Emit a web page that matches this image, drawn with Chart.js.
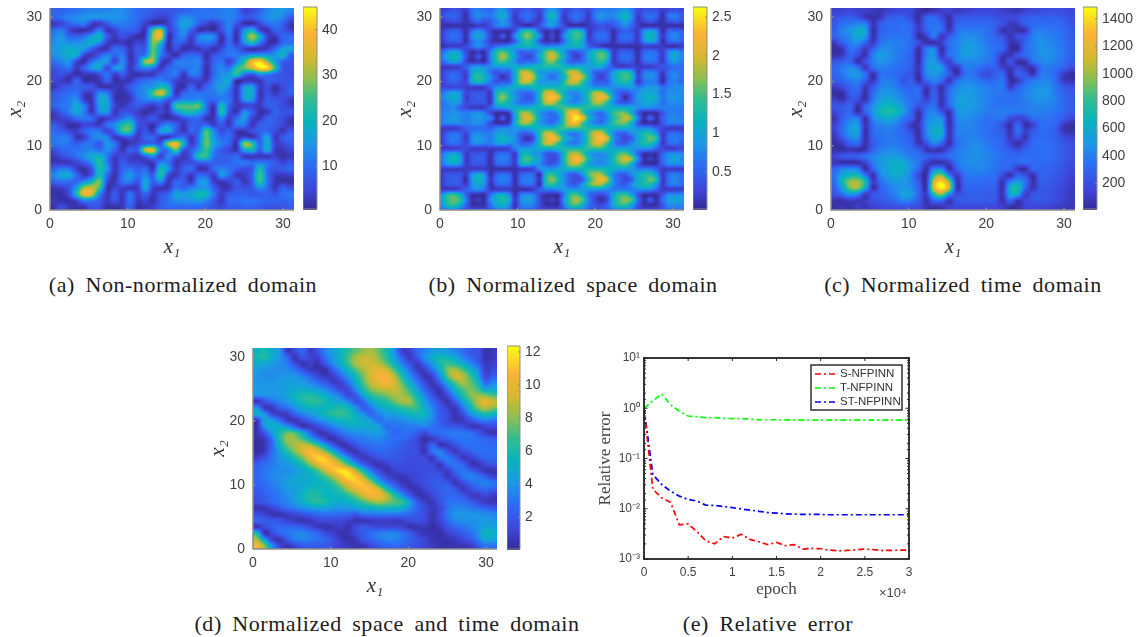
<!DOCTYPE html>
<html>
<head>
<meta charset="utf-8">
<script src="https://cdn.jsdelivr.net/npm/chart.js@4/dist/chart.umd.js"></script>
<style>
  html, body { margin: 0; padding: 0; background: #fff; }
  body { position: relative; width: 1140px; height: 637px; overflow: hidden; }
  canvas { position: absolute; }
  .cap { position: absolute; transform: translateX(-50%); white-space: nowrap; color: #1c1c1c;
         font: 22px "Liberation Serif", serif; letter-spacing: 0.55px; word-spacing: 4.5px; }
  .exp { position: absolute; font: 13px "Liberation Sans", sans-serif; color: #444; }
</style>
</head>
<body>
<canvas id="hA"></canvas><canvas id="cA"></canvas>
<canvas id="hB"></canvas><canvas id="cB"></canvas>
<canvas id="hC"></canvas><canvas id="cC"></canvas>
<canvas id="hD"></canvas><canvas id="cD"></canvas>
<canvas id="err"></canvas>
<div class="cap" style="left:183px;top:272px">(a) Non-normalized domain</div>
<div class="cap" style="left:573px;top:272px">(b) Normalized space domain</div>
<div class="cap" style="left:963px;top:272px">(c) Normalized time domain</div>
<div class="cap" style="left:387px;top:611px">(d) Normalized space and time domain</div>
<div class="cap" style="left:768px;top:611px">(e) Relative error</div>
<div class="exp" style="left:879px;top:585px">×10⁴</div>
<script>
// panel a, rows top to bottom
const gridA = [
[9,9,10,11,12,13,13,13,14,14,12,10,9,8,7,7,8,9,10,11,11,11,12,13,11,5,6,9,13,15,15,13],
[9,11,13,14,15,15,15,15,15,14,12,10,8,6,4,5,10,14,13,11,11,11,12,13,11,8,8,11,14,15,13,8],
[3,5,9,11,12,4,3,8,12,12,11,9,4,2,3,4,11,17,15,9,5,3,8,13,7,2,2,5,10,12,9,3],
[10,12,5,2,2,4,12,3,5,9,9,7,3,24,32,6,9,15,9,2,3,2,6,13,3,14,19,5,2,9,8,4],
[13,15,10,9,11,16,20,8,3,7,4,2,4,30,37,3,9,13,4,12,15,13,2,11,2,19,31,20,5,3,9,10],
[14,16,14,14,16,18,14,4,3,3,2,5,6,29,22,2,9,7,3,10,11,9,2,10,3,15,22,12,3,2,9,11],
[15,17,19,18,15,9,3,3,10,9,3,8,8,27,15,2,6,2,3,3,5,2,6,11,9,4,2,3,4,10,16,17],
[14,16,19,17,5,3,8,13,9,12,2,8,12,28,13,5,2,8,10,9,2,7,9,11,12,13,16,17,16,15,20,9],
[11,13,15,5,2,11,15,15,5,14,3,9,30,30,6,3,11,12,12,13,3,9,11,4,13,23,38,42,30,17,9,7],
[7,9,11,3,9,15,17,6,15,14,3,9,14,11,3,9,11,11,12,12,2,10,13,11,23,28,34,43,42,24,8,6],
[5,7,4,2,3,3,6,11,4,8,3,2,3,3,8,10,12,3,12,11,2,10,14,16,24,11,8,14,13,9,7,6],
[5,4,2,9,2,2,3,9,2,3,3,8,10,12,13,10,5,3,4,5,3,12,15,17,2,3,3,3,8,8,7,7],
[3,6,8,9,8,7,3,2,3,3,8,11,14,15,22,18,4,2,9,3,9,13,17,13,3,15,16,4,6,2,5,8],
[7,9,10,11,4,4,14,12,3,2,5,12,14,26,34,22,3,9,11,11,11,12,14,10,3,17,18,3,7,3,6,8],
[8,10,12,14,4,3,17,16,3,2,3,10,13,14,15,8,9,13,13,14,11,10,12,11,3,15,15,3,8,7,6,3],
[9,11,12,18,12,3,16,17,5,3,6,8,5,3,6,3,24,26,26,27,11,3,21,9,3,4,5,3,8,8,6,4],
[4,8,12,17,12,3,14,15,3,7,6,4,2,3,5,3,13,20,22,17,10,2,23,7,3,14,9,2,3,9,7,7],
[3,4,6,10,11,10,3,4,6,11,14,6,5,8,3,2,3,6,9,10,3,3,13,4,11,15,5,3,9,8,6,3],
[8,5,2,2,5,5,3,11,14,22,24,8,5,2,9,13,9,3,9,8,9,4,8,3,12,11,3,8,9,8,5,3],
[10,8,5,4,9,12,11,5,11,24,24,5,7,3,16,17,8,3,9,9,26,14,6,9,3,3,6,9,9,6,3,7],
[11,12,11,3,4,12,14,13,3,5,7,3,9,9,3,3,9,11,3,11,27,15,10,10,3,5,3,8,17,3,8,10],
[11,12,11,8,11,11,8,15,11,2,3,5,8,10,7,30,37,20,4,12,28,17,12,9,3,30,25,9,19,5,5,8],
[6,9,10,11,12,13,10,14,9,3,9,8,33,36,12,12,27,7,8,15,25,13,8,5,3,17,20,9,18,4,3,5],
[3,6,8,11,14,18,20,12,4,6,4,3,8,14,4,13,8,3,8,23,24,11,9,8,10,3,3,3,3,4,2,3],
[3,3,3,5,8,14,24,12,3,8,5,5,3,3,13,11,3,5,6,8,9,9,8,9,11,12,10,12,11,8,5,7],
[9,12,11,4,2,8,22,15,3,9,11,8,10,3,21,15,4,8,10,3,3,10,13,11,8,6,8,22,10,7,8,9],
[13,17,17,10,3,8,22,10,2,11,15,10,13,8,23,6,3,8,3,10,9,4,15,10,3,4,9,25,11,4,3,4],
[9,11,10,9,14,21,28,6,3,11,12,7,17,9,14,3,9,8,3,14,15,4,3,5,8,3,8,24,11,3,2,2],
[3,4,7,17,31,33,25,3,5,4,3,4,17,5,3,3,11,9,12,14,15,9,3,3,7,6,8,14,10,3,9,6],
[2,2,6,21,37,34,14,3,8,3,11,4,9,3,7,9,17,16,17,22,20,11,4,8,9,9,7,8,9,7,10,12],
[3,2,2,5,13,12,8,3,7,3,11,3,5,2,8,11,14,14,15,16,13,8,3,10,10,11,11,10,9,9,9,10],
[2,6,3,2,3,7,6,2,2,3,9,2,3,4,8,10,10,10,10,10,9,7,5,8,8,9,9,8,7,7,7,8]
];
// panel b, in tenths
const gridB = [
[2,3,4,3,2,6,7,6,6,8,9,6,3,4,5,4,3,7,9,7,3,4,5,4,3,6,7,7,7,8,9,7,3,4,4,4,2,3,4,3],
[3,5,5,4,1,6,8,7,7,9,11,7,2,5,6,5,2,8,13,8,2,5,6,5,2,7,9,8,8,10,12,8,2,5,6,5,1,6,7,5],
[2,3,4,3,1,4,6,4,5,7,9,6,2,3,5,3,2,7,10,7,2,3,5,3,2,5,7,6,6,8,10,7,2,3,5,3,1,4,5,4],
[1,1,1,1,1,1,2,2,4,7,8,6,3,2,1,2,4,7,9,6,3,1,1,1,2,3,4,3,4,6,8,5,2,1,1,1,1,1,1,1],
[2,4,5,4,1,6,8,6,2,1,1,1,4,11,14,11,4,1,2,1,5,11,13,10,2,4,5,4,1,4,5,4,2,8,10,8,1,5,6,5],
[2,5,6,5,1,8,10,8,3,1,4,1,8,13,17,13,8,1,3,1,8,12,15,12,2,5,6,5,1,5,6,5,2,9,12,9,2,6,8,6],
[2,4,5,4,1,6,8,6,2,1,1,1,5,11,14,11,4,1,2,1,6,11,13,10,3,4,5,4,1,4,5,4,2,8,10,8,1,5,6,5],
[1,2,2,2,3,6,8,6,4,6,7,8,10,11,12,11,9,7,8,8,10,11,12,10,5,3,2,1,1,1,1,1,1,2,2,2,2,1,1,2],
[5,8,10,8,3,1,2,1,7,13,15,12,8,5,6,6,9,15,17,13,9,5,5,6,9,12,14,10,2,4,5,4,1,5,6,5,2,7,9,7],
[7,10,12,10,4,1,4,1,8,14,18,14,9,5,3,5,11,16,20,16,10,5,2,5,10,13,16,13,2,5,6,5,1,6,7,6,2,8,10,8],
[5,8,10,8,3,1,2,1,7,13,15,12,8,5,6,6,9,15,17,13,9,5,5,6,9,12,14,10,2,4,5,4,1,5,6,5,2,7,9,7],
[2,2,2,3,5,8,9,8,8,9,9,10,11,11,11,12,12,13,13,13,12,11,11,11,10,10,10,7,4,2,2,3,2,2,2,3,4,5,6,6],
[2,4,5,4,3,10,12,10,6,4,5,5,11,18,19,15,9,9,9,9,14,19,19,14,9,5,5,5,9,12,13,10,2,6,7,6,2,6,7,6],
[2,5,6,5,2,11,14,11,8,4,1,4,11,18,22,18,11,8,6,8,12,18,22,18,11,5,2,5,10,13,15,13,3,7,8,7,1,6,8,6],
[2,4,5,4,3,10,12,10,6,4,5,5,11,18,19,15,9,9,9,9,14,19,19,14,9,5,5,5,9,12,13,10,2,6,7,6,1,6,7,6],
[3,3,3,3,2,2,2,2,5,8,9,10,11,11,11,12,12,12,12,12,13,13,13,12,10,8,8,8,8,8,9,9,7,8,9,9,6,7,8,8],
[6,8,9,8,3,4,4,4,2,12,14,11,8,6,6,7,12,19,20,15,11,8,8,10,13,18,18,13,8,5,4,6,8,10,10,9,6,8,8,8],
[8,9,11,9,2,4,5,4,2,13,17,13,9,6,4,6,13,20,24,20,12,9,7,9,14,19,22,19,9,5,1,5,9,10,12,10,7,8,9,8],
[6,8,9,8,3,4,4,4,2,12,14,11,8,6,6,7,12,19,20,15,11,8,8,10,13,18,18,13,8,5,4,6,8,10,10,9,6,8,8,8],
[7,7,8,5,3,2,2,2,5,8,9,10,11,11,11,12,12,12,12,14,15,15,15,14,13,13,13,12,11,11,11,10,8,8,8,7,7,7,7,7],
[7,8,8,8,7,8,8,7,3,1,1,2,11,17,18,14,9,7,6,9,15,22,22,15,10,7,6,9,14,16,16,11,4,1,1,1,4,7,7,7],
[7,8,9,8,7,8,9,8,7,1,4,1,10,17,21,17,10,7,6,7,15,22,26,22,12,8,6,8,13,16,19,16,7,1,5,1,5,7,8,7],
[7,8,8,8,7,8,8,7,3,1,1,2,11,17,18,14,9,7,6,9,15,22,22,15,10,7,6,9,14,16,16,11,4,1,1,1,4,7,7,7],
[2,2,2,3,5,6,6,6,5,7,8,8,9,10,10,11,12,12,12,13,15,15,15,14,13,13,13,12,11,11,11,10,8,8,8,5,3,2,2,2],
[2,5,6,5,3,7,8,7,7,9,10,8,8,5,5,7,13,19,19,14,10,7,7,10,15,20,20,14,8,5,5,8,10,13,13,9,2,5,6,5],
[2,6,7,6,2,8,9,8,7,10,12,10,8,4,1,4,13,19,23,19,12,9,7,9,15,20,24,20,9,5,3,5,10,13,16,13,2,6,7,6],
[2,5,6,5,3,7,8,7,7,9,10,8,8,5,5,7,13,19,19,14,10,7,7,10,15,20,20,14,8,5,5,8,10,13,13,9,2,5,6,5],
[2,2,2,3,3,2,2,2,2,2,2,3,7,9,9,10,11,11,11,12,13,13,13,13,14,14,14,12,10,10,10,9,8,8,8,5,3,2,2,3],
[6,9,10,8,2,4,4,4,1,5,6,5,2,11,12,9,8,5,4,6,12,18,19,15,10,8,8,9,12,15,16,11,5,1,1,1,5,8,8,8],
[7,10,12,10,2,4,5,4,1,6,7,6,2,12,15,12,9,5,3,5,13,19,23,19,12,9,8,9,13,17,20,17,8,1,2,1,6,8,10,8],
[6,9,10,8,2,4,4,4,1,5,6,5,2,11,12,9,8,5,4,6,12,18,19,15,10,8,8,9,12,15,16,11,5,1,1,1,5,8,8,8],
[2,2,2,2,2,2,2,2,1,1,1,1,1,2,2,3,8,9,9,10,11,12,12,12,13,13,13,12,11,10,10,9,7,7,7,5,2,2,2,2],
[2,4,4,4,2,8,10,8,1,5,6,5,1,5,6,5,1,12,14,11,8,5,5,9,15,18,18,13,8,5,5,8,11,13,13,9,2,6,7,6],
[2,4,5,4,1,9,12,9,2,6,7,6,1,6,7,6,2,13,17,13,8,5,3,5,13,18,22,18,8,5,3,5,11,13,16,13,2,6,8,6],
[2,4,4,4,2,8,10,8,1,5,6,5,1,5,6,5,1,12,14,11,8,5,5,9,15,18,18,13,8,5,5,8,11,13,13,9,2,6,7,6],
[2,2,2,3,5,7,8,6,2,2,2,2,1,1,1,2,5,7,7,8,9,9,9,9,9,9,9,8,7,7,7,7,8,8,8,5,2,2,2,2],
[8,13,14,11,5,1,1,1,6,10,11,8,1,7,8,7,3,1,1,1,7,14,15,11,6,4,3,5,10,14,14,10,4,1,1,1,4,8,8,8],
[10,14,16,14,7,1,2,1,8,11,13,11,2,8,9,8,3,1,2,1,9,15,18,15,7,3,1,3,11,15,17,15,6,1,4,1,6,9,10,9],
[8,13,14,11,5,1,1,1,6,10,11,8,1,7,8,7,3,1,1,1,7,14,15,11,6,4,3,5,10,14,14,10,4,1,1,1,4,8,8,8],
[6,7,8,6,4,3,3,3,5,7,8,7,2,5,6,5,3,3,3,3,5,8,9,8,5,4,4,5,7,8,8,7,4,3,3,3,4,6,6,6]
];
// panel c, in tens
const gridC = [
[14,14,16,14,12,10,8,12,16,18,16,6,4,8,12,14,10,12,14,16,16,16,12,10,8,14,16,18,20,20,18,16],
[20,25,28,22,10,5,10,25,28,28,18,5,28,32,18,6,22,25,25,25,25,22,18,18,20,25,28,28,28,28,25,20],
[25,35,38,42,40,8,25,32,32,34,28,8,30,35,30,5,28,32,32,32,30,28,20,10,12,28,32,33,33,33,30,22],
[28,42,48,58,55,5,28,32,33,35,30,10,28,38,32,8,33,40,38,38,34,25,6,10,6,8,36,40,38,36,32,25],
[28,38,45,60,50,8,30,35,36,36,32,4,12,38,10,25,38,45,45,42,36,30,20,8,20,25,40,45,42,38,34,26],
[10,28,40,45,30,10,35,42,40,38,32,18,6,6,12,35,42,50,50,45,38,32,28,8,10,30,40,48,45,40,35,28],
[4,8,35,30,10,28,45,45,40,38,30,5,38,42,6,32,42,52,52,48,40,34,30,6,5,32,40,48,46,42,36,28],
[6,10,30,18,8,40,52,48,40,36,28,4,40,48,10,34,42,50,50,46,40,32,10,8,22,32,40,46,48,42,36,28],
[22,28,30,6,20,38,48,45,38,34,28,5,45,52,28,14,38,44,44,42,38,30,6,22,6,8,34,42,44,40,34,26],
[30,38,45,38,10,32,40,38,35,32,26,8,45,55,50,18,8,36,38,34,26,28,14,8,18,10,6,34,38,34,28,18],
[30,38,48,50,35,6,34,35,32,28,22,6,42,50,42,25,6,34,36,26,18,26,32,4,26,22,8,36,38,30,12,5],
[26,30,38,42,25,8,36,40,35,22,28,5,30,42,32,8,34,42,42,36,30,32,36,6,10,30,38,42,42,32,10,8],
[12,18,30,34,10,25,42,45,40,32,30,28,10,25,6,30,42,48,48,44,40,38,38,12,28,38,44,48,46,36,26,20],
[5,4,25,28,6,32,48,50,45,38,32,32,5,28,8,34,48,52,50,46,42,38,36,32,34,42,48,50,48,38,30,24],
[12,6,22,20,6,38,52,58,52,42,34,30,14,30,6,34,50,55,52,46,42,36,34,34,36,40,46,48,46,40,32,26],
[22,24,30,6,28,45,62,68,62,48,36,22,28,35,8,30,50,55,52,46,40,36,38,36,36,38,42,44,42,38,32,26],
[14,25,30,5,30,48,68,74,70,50,32,6,36,42,25,6,44,50,48,44,38,38,40,38,36,38,40,40,38,36,30,24],
[8,28,38,38,6,42,55,62,52,38,28,5,40,48,45,5,42,46,44,40,36,36,36,18,14,16,34,36,36,32,26,16],
[14,32,48,50,8,34,42,44,40,30,10,8,42,55,52,6,38,44,42,38,34,32,20,6,30,6,14,34,34,28,10,5],
[14,35,50,55,5,32,38,40,36,30,18,5,42,60,60,7,38,42,42,38,34,30,26,6,34,12,24,32,32,26,8,6],
[8,26,42,45,6,30,36,38,36,32,26,6,38,55,50,8,36,40,42,40,36,32,28,10,22,8,30,32,32,28,18,14],
[5,10,28,30,6,26,34,38,38,34,30,8,20,42,28,6,34,40,45,44,38,34,30,14,5,18,32,34,34,30,24,20],
[6,5,8,5,8,30,40,44,44,40,34,28,8,8,6,22,38,42,46,46,40,36,32,26,20,28,32,34,34,30,26,20],
[14,24,26,28,36,42,48,52,52,46,38,34,28,24,28,34,40,44,46,46,42,38,34,32,32,34,34,34,34,30,26,20],
[8,6,5,6,14,38,50,58,62,58,46,36,14,6,6,12,36,44,46,46,42,38,34,32,30,32,32,32,32,28,24,18],
[30,42,45,40,6,30,48,58,64,60,46,30,6,40,42,6,28,40,42,44,40,36,30,28,10,6,30,30,30,26,22,16],
[36,58,68,68,38,6,42,52,60,55,42,18,6,78,95,40,10,34,38,38,36,34,18,6,30,20,6,28,28,24,20,14],
[34,70,98,100,72,12,34,44,52,50,42,24,7,110,140,95,10,30,34,34,32,30,8,38,50,34,6,26,26,22,18,12],
[28,55,92,98,60,6,28,38,46,50,44,30,8,118,148,110,8,28,30,30,28,28,6,62,72,30,8,24,24,20,16,10],
[22,35,50,42,12,22,28,34,42,54,52,30,12,72,98,48,18,26,28,28,26,26,8,58,55,12,22,24,22,18,14,10],
[6,6,12,10,10,20,24,28,34,42,38,26,6,30,32,8,24,26,26,26,24,24,6,30,8,16,24,24,22,18,14,10],
[5,8,5,12,8,14,16,18,20,22,20,18,8,6,8,14,16,16,16,16,16,16,12,6,6,14,16,16,14,12,10,8]
];
// panel d, in tenths
const gridD = [
[55,60,50,40,8,15,25,8,20,35,45,55,65,75,82,85,75,60,40,12,10,25,35,40,45,42,35,28,20,18,5,8],
[58,62,50,40,25,6,18,12,12,30,42,55,70,85,90,90,80,65,45,25,8,20,38,50,58,55,48,35,25,18,5,8],
[50,48,42,38,32,15,6,10,5,20,38,50,68,85,92,92,88,75,55,35,18,8,25,42,60,68,62,50,38,25,8,10],
[42,40,38,38,36,30,18,8,6,4,22,38,55,72,85,95,100,92,72,50,30,10,10,28,50,78,85,72,55,38,10,14],
[40,38,38,40,42,40,34,25,14,8,10,25,42,60,78,95,105,106,88,62,40,22,6,12,38,72,92,88,68,45,14,22],
[40,40,40,42,45,45,42,36,28,20,10,12,30,50,72,90,100,106,95,75,52,32,15,6,22,50,72,85,75,58,25,35],
[42,42,42,42,46,48,50,48,42,35,25,12,16,40,62,80,88,92,92,82,65,45,25,10,8,30,55,72,78,68,45,48],
[38,40,40,42,48,55,60,62,58,50,40,30,14,22,48,65,72,78,85,85,75,55,35,18,6,15,40,62,78,82,78,70],
[6,18,28,35,42,50,60,65,65,58,50,45,35,18,28,48,58,65,75,85,85,65,45,28,14,6,22,45,68,88,98,90],
[38,8,8,22,30,40,48,55,55,55,58,62,55,38,22,32,45,52,58,65,70,68,50,35,20,10,8,30,55,78,88,80],
[50,40,14,8,10,25,35,42,48,58,65,68,62,50,38,25,35,42,45,50,55,58,55,38,22,15,6,16,38,52,62,55],
[8,45,42,28,10,6,15,25,35,42,50,55,58,55,50,42,28,35,35,38,42,45,45,35,22,14,7,8,18,28,35,30],
[6,40,50,50,40,22,6,8,15,25,35,42,48,50,50,50,45,28,30,30,32,32,35,30,25,20,20,16,8,8,12,15],
[6,20,42,60,75,70,50,25,8,8,18,28,35,38,40,42,42,35,25,28,28,22,14,25,28,30,32,30,28,20,10,6],
[4,8,30,62,82,82,70,50,30,12,5,12,22,30,32,35,36,32,28,26,22,14,4,8,16,22,28,30,30,28,25,22],
[3,6,25,55,75,85,92,85,68,45,22,7,8,18,25,28,30,28,25,22,18,14,8,25,8,8,18,25,28,28,28,26],
[4,8,28,45,62,80,95,110,100,80,55,30,10,7,15,22,25,25,22,20,18,16,6,28,35,18,8,16,22,28,28,28],
[10,18,30,40,50,62,78,100,115,110,88,62,38,16,8,10,16,20,20,18,16,15,14,8,28,32,22,8,10,18,25,25],
[22,28,32,38,42,50,62,80,100,112,108,92,68,42,22,10,6,10,16,16,14,15,16,14,8,25,30,24,8,6,14,18],
[25,30,35,38,38,42,48,58,72,92,108,118,112,85,55,30,14,6,10,14,14,14,15,16,12,10,25,30,24,14,6,6],
[25,30,35,38,42,48,50,52,58,70,85,105,118,110,85,55,30,14,8,6,10,14,16,18,18,8,15,28,35,30,22,12],
[25,28,34,38,45,48,48,50,55,58,68,85,102,112,108,85,55,32,18,8,6,12,16,20,22,20,6,14,25,30,35,30],
[22,26,30,35,42,45,50,58,58,55,58,68,85,98,108,108,92,62,38,20,8,6,12,18,22,25,20,8,14,22,25,22],
[18,22,28,32,38,45,55,62,62,55,55,58,65,78,92,105,102,88,65,42,22,8,6,12,20,25,25,20,10,8,14,8],
[15,20,25,30,35,42,52,60,65,60,52,50,52,60,70,80,85,80,72,68,45,22,10,7,18,28,30,28,22,14,8,6],
[6,6,12,20,28,32,38,42,45,45,42,40,42,45,50,52,55,55,55,50,38,25,15,8,12,28,35,35,32,28,25,20],
[16,12,6,5,8,14,18,22,26,28,28,26,25,18,28,28,30,30,30,28,25,20,15,6,14,32,40,42,40,40,38,35],
[25,22,20,18,12,8,5,8,12,14,14,14,10,6,6,8,10,10,8,10,14,16,14,6,12,25,35,38,38,40,42,40],
[6,16,22,25,25,25,22,14,8,5,7,10,6,14,20,16,14,14,14,12,6,6,8,4,8,18,25,30,35,40,48,45],
[58,6,14,25,30,34,35,30,25,15,10,5,6,14,22,28,32,35,35,30,22,12,6,6,4,10,16,22,28,38,55,52],
[85,45,12,6,20,32,35,32,28,25,16,8,5,8,18,25,30,35,35,30,24,18,12,6,5,5,8,14,20,32,48,45],
[105,80,40,14,6,12,20,22,20,20,15,10,8,5,6,14,20,24,26,24,20,16,12,8,5,4,5,6,8,20,30,28]
];

const ticksA = [10, 20, 30, 40];
const ticksB = [0.5, 1, 1.5, 2, 2.5];
const ticksC = [200, 400, 600, 800, 1000, 1200, 1400];
const ticksD = [2, 4, 6, 8, 10, 12];
const axisTicks = [0, 10, 20, 30];

const epochs = [0,1000,2000,3000,4000,5000,6000,7000,8000,9000,10000,11000,12000,13000,14000,15000,16000,17000,18000,19000,20000,21000,22000,23000,24000,25000,26000,27000,28000,29000,30000];
const errS = [1,0.0245,0.0165,0.0134,0.0048,0.005,0.0035,0.0023,0.002,0.0028,0.0026,0.0031,0.00246,0.0022,0.00193,0.00214,0.00184,0.00193,0.00158,0.00163,0.0016,0.0015,0.00145,0.00148,0.00152,0.00157,0.00154,0.00147,0.00149,0.0015,0.0015];
const errT = [1,1.4,1.93,1.18,0.87,0.7,0.68,0.65,0.65,0.63,0.62,0.62,0.61,0.59,0.59,0.59,0.585,0.585,0.58,0.58,0.58,0.58,0.58,0.58,0.58,0.58,0.58,0.58,0.58,0.58,0.58];
const errST = [1,0.048,0.0304,0.0224,0.0178,0.0153,0.0142,0.0118,0.0116,0.0111,0.0105,0.0099,0.0094,0.0089,0.0084,0.0082,0.0079,0.0078,0.0077,0.0077,0.0077,0.0076,0.0076,0.0076,0.0076,0.0076,0.0076,0.0076,0.0076,0.0076,0.0076];

const colorStops = [
  [0, 53, 42, 150], [0.1, 62, 70, 218], [0.22, 45, 108, 245], [0.33, 28, 152, 230],
  [0.44, 8, 180, 190], [0.55, 50, 190, 145], [0.65, 140, 192, 80], [0.75, 210, 185, 48],
  [0.87, 252, 178, 56], [1, 248, 250, 16]
];

function colorAt(t) {
  t = Math.max(0, Math.min(1, t));
  for (let i = 1; i < colorStops.length; i++) {
    const a = colorStops[i - 1], b = colorStops[i];
    if (t <= b[0]) {
      const f = (t - a[0]) / (b[0] - a[0]);
      return [a[1] + (b[1] - a[1]) * f, a[2] + (b[2] - a[2]) * f, a[3] + (b[3] - a[3]) * f];
    }
  }
  return colorStops[colorStops.length - 1].slice(1);
}

const AXIS_COLOR = "#8c8c8c";
const TICK_FONT = { family: "'Liberation Sans', sans-serif", size: 14 };
const TICK_COLOR = "#404040";
const TITLE_FONT = { family: "'Liberation Serif', serif", size: 21, style: "italic" };

function catmull(p0, p1, p2, p3, t) {
  return p1 + 0.5 * t * (p2 - p0 + t * (2 * p0 - 5 * p1 + 4 * p2 - p3 + t * (3 * (p1 - p2) + p3 - p0)));
}

// paints the cell values pixel by pixel, smooth between cells like the shading in the picture
const heatPlugin = {
  id: "heat",
  beforeDatasetsDraw(chart) {
    const ds = chart.data.datasets[0];
    const { x, y } = chart.scales;
    const a = chart.chartArea;
    const w = Math.round(a.right - a.left), h = Math.round(a.bottom - a.top);
    const img = chart.ctx.createImageData(w, h);
    const dx = (ds.extent[1] - ds.extent[0]) / ds.cols, dy = (ds.extent[3] - ds.extent[2]) / ds.rows;
    const at = (c, r) => {
      c = Math.max(0, Math.min(ds.cols - 1, c));
      r = Math.max(0, Math.min(ds.rows - 1, r));
      return ds.data[r * ds.cols + c].v;
    };
    for (let py = 0; py < h; py++) {
      const gy = (ds.extent[3] - y.getValueForPixel(a.top + py + 0.5)) / dy - 0.5;
      const r0 = Math.floor(gy), ty = gy - r0;
      for (let px = 0; px < w; px++) {
        const gx = (x.getValueForPixel(a.left + px + 0.5) - ds.extent[0]) / dx - 0.5;
        const c0 = Math.floor(gx), tx = gx - c0;
        const col = [];
        for (let k = -1; k <= 2; k++) {
          col.push(catmull(at(c0 - 1, r0 + k), at(c0, r0 + k), at(c0 + 1, r0 + k), at(c0 + 2, r0 + k), tx));
        }
        const v = catmull(col[0], col[1], col[2], col[3], ty);
        const c = colorAt((v - ds.vmin) / (ds.vmax - ds.vmin));
        const o = (py * w + px) * 4;
        img.data[o] = c[0]; img.data[o + 1] = c[1]; img.data[o + 2] = c[2]; img.data[o + 3] = 255;
      }
    }
    chart.ctx.putImageData(img, a.left, a.top);
  },
  afterDraw(chart) {
    const { x, y } = chart.scales;
    const a = chart.chartArea;
    const ctx = chart.ctx;
    ctx.save();
    ctx.strokeStyle = AXIS_COLOR;
    ctx.lineWidth = 1.5;
    ctx.beginPath();
    ctx.moveTo(a.left, a.top);
    ctx.lineTo(a.left, a.bottom);
    ctx.lineTo(a.right, a.bottom);
    x.ticks.forEach(t => {
      const p = x.getPixelForValue(t.value);
      ctx.moveTo(p, a.bottom);
      ctx.lineTo(p, a.bottom - 2.5);
    });
    y.ticks.forEach(t => {
      const p = y.getPixelForValue(t.value);
      ctx.moveTo(a.left, p);
      ctx.lineTo(a.left + 2.5, p);
    });
    ctx.stroke();
    ctx.restore();
  }
};

const barPlugin = {
  id: "bar",
  beforeDatasetsDraw(chart) {
    const y = chart.scales.y;
    const a = chart.chartArea;
    const ctx = chart.ctx;
    const n = 128;
    for (let i = 0; i < n; i++) {
      const v0 = y.min + (y.max - y.min) * i / n;
      const v1 = y.min + (y.max - y.min) * (i + 1) / n;
      const c = colorAt((i + 0.5) / n);
      ctx.fillStyle = `rgb(${c[0]},${c[1]},${c[2]})`;
      ctx.fillRect(a.left, y.getPixelForValue(v1), a.right - a.left, y.getPixelForValue(v0) - y.getPixelForValue(v1) + 1);
    }
    ctx.strokeStyle = AXIS_COLOR;
    ctx.lineWidth = 1;
    ctx.beginPath();
    ctx.rect(a.left, a.top, a.right - a.left, a.bottom - a.top);
    y.ticks.forEach(t => {
      const p = y.getPixelForValue(t.value);
      ctx.moveTo(a.right, p);
      ctx.lineTo(a.right - 2, p);
    });
    ctx.stroke();
  }
};

// puts the canvas so the chart area lands on the wanted rectangle
function place(id, rect, axisL, padT, axisB, padR) {
  const cv = document.getElementById(id);
  cv.width = rect.r - rect.l + axisL + padR;
  cv.height = rect.b - rect.t + padT + axisB;
  cv.style.left = (rect.l - axisL) + "px";
  cv.style.top = (rect.t - padT) + "px";
  return cv;
}

function fitX(height) {
  return s => { s.height = height; s.paddingLeft = 0; s.paddingRight = 0; };
}
function fitY(width) {
  return s => { s.width = width; s.paddingTop = 0; s.paddingBottom = 0; };
}

function makeHeatmap(id, rows, factor, vmin, vmax, rect, extent) {
  const cols = rows[0].length, nRows = rows.length;
  const points = [];
  const dx = (extent[1] - extent[0]) / cols, dy = (extent[3] - extent[2]) / nRows;
  rows.forEach((row, r) => row.forEach((v, c) => {
    points.push({ x: extent[0] + (c + 0.5) * dx, y: extent[3] - (r + 0.5) * dy, v: v * factor });
  }));
  const cv = place(id, rect, 50, 8, 50, 10);
  return new Chart(cv, {
    type: "scatter",
    data: { datasets: [{ data: points, cols: cols, rows: nRows, extent: extent, vmin: vmin, vmax: vmax, pointRadius: 0, pointHoverRadius: 0 }] },
    options: {
      responsive: false,
      animation: false,
      layout: { padding: { top: 8, right: 10, left: 0, bottom: 0 } },
      plugins: { legend: { display: false }, tooltip: { enabled: false } },
      scales: {
        x: {
          type: "linear", min: 0, max: 31.416,
          afterBuildTicks: s => { s.ticks = axisTicks.map(v => ({ value: v })); },
          afterFit: fitX(50),
          grid: { display: false, drawTicks: false }, border: { display: false },
          ticks: { callback: v => String(v), font: TICK_FONT, color: TICK_COLOR, padding: 6, maxRotation: 0, autoSkip: false },
          title: { display: true, text: "x₁", font: TITLE_FONT, color: "#333", padding: 0 }
        },
        y: {
          type: "linear", min: 0, max: 31.416,
          afterBuildTicks: s => { s.ticks = axisTicks.map(v => ({ value: v })); },
          afterFit: fitY(50),
          grid: { display: false, drawTicks: false }, border: { display: false },
          ticks: { callback: v => String(v), font: TICK_FONT, color: TICK_COLOR, padding: 8, autoSkip: false },
          title: { display: true, text: "x₂", font: TITLE_FONT, color: "#333", padding: { top: 3, bottom: 0 } }
        }
      }
    },
    plugins: [heatPlugin]
  });
}

function makeColorbar(id, ticks, vmin, vmax, rect) {
  const cv = place(id, rect, 0, 8, 8, 43);
  return new Chart(cv, {
    type: "scatter",
    data: { datasets: [{ data: [] }] },
    options: {
      responsive: false,
      animation: false,
      layout: { padding: { top: 8, bottom: 8, left: 0, right: 0 } },
      plugins: { legend: { display: false }, tooltip: { enabled: false } },
      scales: {
        x: { display: false },
        y: {
          type: "linear", position: "right", min: vmin, max: vmax,
          afterBuildTicks: s => { s.ticks = ticks.map(v => ({ value: v })); },
          afterFit: fitY(43),
          grid: { display: false, drawTicks: false }, border: { display: false },
          ticks: { callback: v => String(v), font: TICK_FONT, color: TICK_COLOR, padding: 5, autoSkip: false }
        }
      }
    },
    plugins: [barPlugin]
  });
}

makeHeatmap("hA", gridA, 1, 0.6, 45, { l: 50, t: 8, r: 294, b: 210 }, [0, 31.416, 0, 31.416]);
makeColorbar("cA", ticksA, 0.6, 45, { l: 303, t: 7, r: 317, b: 209 });
makeHeatmap("hB", gridB, 0.1, 0.02, 2.63, { l: 440, t: 8, r: 684, b: 210 }, [-0.2, 31.416, -0.4, 31.416]);
makeColorbar("cB", ticksB, 0.02, 2.63, { l: 693, t: 7, r: 707, b: 209 });
makeHeatmap("hC", gridC, 10, 10, 1488, { l: 831, t: 8, r: 1075, b: 210 }, [0, 31.416, 0, 31.416]);
makeColorbar("cC", ticksC, 10, 1488, { l: 1083, t: 7, r: 1097, b: 209 });
makeHeatmap("hD", gridD, 0.1, 0.06, 12.36, { l: 253, t: 348, r: 497, b: 549 }, [0, 31.416, 0, 31.416]);
makeColorbar("cD", ticksD, 0.06, 12.36, { l: 507, t: 346, r: 520, b: 549 });

// box, inside ticks and legend of the error panel
const errPlugin = {
  id: "errFrame",
  afterDraw(chart) {
    const { x, y } = chart.scales;
    const a = chart.chartArea;
    const ctx = chart.ctx;
    ctx.save();
    ctx.strokeStyle = "#222";
    ctx.lineWidth = 1.8;
    ctx.strokeRect(a.left, a.top, a.right - a.left, a.bottom - a.top);
    ctx.lineWidth = 1;
    ctx.beginPath();
    x.ticks.forEach(t => {
      const p = x.getPixelForValue(t.value);
      ctx.moveTo(p, a.bottom); ctx.lineTo(p, a.bottom - 3);
      ctx.moveTo(p, a.top); ctx.lineTo(p, a.top + 3);
    });
    y.ticks.forEach(t => {
      const p = y.getPixelForValue(t.value);
      const major = Number.isInteger(Math.round(Math.log10(t.value) * 1000) / 1000);
      const len = major ? 3.5 : 2;
      ctx.moveTo(a.left, p); ctx.lineTo(a.left + len, p);
      ctx.moveTo(a.right, p); ctx.lineTo(a.right - len, p);
    });
    ctx.stroke();

    const bx = a.left + 167, by = a.top + 7, bw = 91, bh = 45;
    ctx.fillStyle = "#fff";
    ctx.fillRect(bx, by, bw, bh);
    ctx.strokeStyle = "#222";
    ctx.lineWidth = 1.4;
    ctx.strokeRect(bx, by, bw, bh);
    ctx.font = "11.5px 'Liberation Sans', sans-serif";
    ctx.textBaseline = "middle";
    chart.data.datasets.forEach((ds, i) => {
      const ly = by + 9 + i * 14;
      ctx.strokeStyle = ds.borderColor;
      ctx.lineWidth = 1.5;
      ctx.setLineDash(ds.borderDash);
      ctx.beginPath();
      ctx.moveTo(bx + 4, ly);
      ctx.lineTo(bx + 27, ly);
      ctx.stroke();
      ctx.setLineDash([]);
      ctx.fillStyle = "#333";
      ctx.fillText(ds.label, bx + 29, ly);
    });
    ctx.restore();
  }
};

const supers = { "-": "⁻", "0": "⁰", "1": "¹", "2": "²", "3": "³" };

function errSeries(label, values, color) {
  return {
    label: label,
    data: epochs.map((e, i) => ({ x: e, y: values[i] })),
    borderColor: color,
    borderWidth: 1.7,
    borderDash: [6, 3, 2, 3],
    pointRadius: 0,
    tension: 0
  };
}

new Chart(place("err", { l: 644, t: 358, r: 909, b: 559 }, 50, 10, 50, 12), {
  type: "line",
  data: { datasets: [errSeries("S-NFPINN", errS, "#ff0000"), errSeries("T-NFPINN", errT, "#00ff00"), errSeries("ST-NFPINN", errST, "#0000ff")] },
  options: {
    responsive: false,
    animation: false,
    layout: { padding: { top: 10, right: 12, left: 0, bottom: 0 } },
    plugins: { legend: { display: false }, tooltip: { enabled: false } },
    scales: {
      x: {
        type: "linear", min: 0, max: 30000,
        afterBuildTicks: s => { s.ticks = [0, 5000, 10000, 15000, 20000, 25000, 30000].map(v => ({ value: v })); },
        afterFit: fitX(50),
        grid: { display: false, drawTicks: false }, border: { display: false },
        ticks: { callback: v => String(v / 10000), font: { family: "'Liberation Sans', sans-serif", size: 12 }, color: TICK_COLOR, padding: 6, maxRotation: 0, autoSkip: false },
        title: { display: true, text: "epoch", font: { family: "'Liberation Serif', serif", size: 17 }, color: "#444", padding: { top: 0, bottom: 9 } }
      },
      y: {
        type: "logarithmic", min: 0.001, max: 10,
        afterFit: fitY(50),
        grid: { display: false, drawTicks: false }, border: { display: false },
        ticks: {
          callback: v => {
            const e = Math.log10(v);
            if (Math.abs(e - Math.round(e)) > 0.001) return "";
            return "10" + String(Math.round(e)).split("").map(ch => supers[ch]).join("");
          },
          font: { family: "'Liberation Sans', sans-serif", size: 12 }, color: TICK_COLOR, padding: 4, autoSkip: false
        },
        title: { display: true, text: "Relative error", font: { family: "'Liberation Serif', serif", size: 17 }, color: "#444", padding: { top: 1, bottom: 0 } }
      }
    }
  },
  plugins: [errPlugin]
});
</script>
</body>
</html>
